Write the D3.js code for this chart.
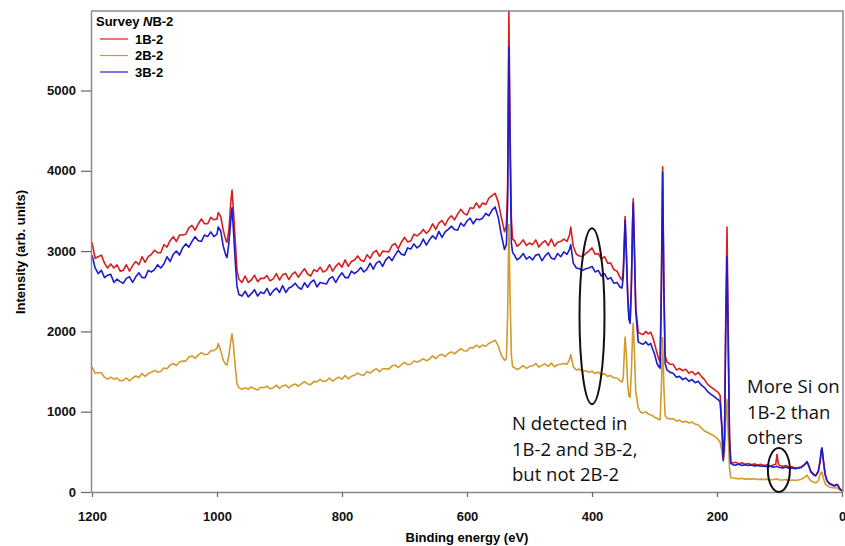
<!DOCTYPE html>
<html>
<head>
<meta charset="utf-8">
<script src="https://cdn.jsdelivr.net/npm/d3@7"></script>
<style>
  body { margin: 0; background: #fff; }
  svg text { font-family: "Liberation Sans", Arial, sans-serif; }
  .note { font-family: "Open Sans", "Noto Sans", sans-serif; font-size: 18.5px; fill: #111; }
</style>
</head>
<body>
<svg id="chart" width="845" height="546"></svg>
<script>
// binding energy (eV), shared by the three spectra
var bindingEnergy = [
  1200,1195,1190,1185,1180,1175,1170,1165,1160,1155,
  1150,1145,1140,1135,1130,1125,1120,1115,1110,1105,
  1100,1095,1090,1085,1080,1075,1070,1065,1060,1055,
  1050,1045,1040,1035,1030,1025,1020,1015,1010,1005,
  1000,998,994,990,986,984,981,978,976,974,
  971,968,965,960,955,950,945,940,935,930,
  925,920,915,910,905,900,895,890,885,880,
  875,870,865,860,855,850,845,840,835,830,
  825,820,815,810,805,800,795,790,785,780,
  775,770,765,760,755,750,745,740,735,730,
  725,720,715,710,705,700,695,690,685,680,
  675,670,665,660,655,650,645,640,635,630,
  625,620,615,610,605,600,595,590,585,580,
  575,570,565,560,555,550,545,540,537,535,
  533,531,529,527,524,520,515,510,505,500,
  495,490,485,480,475,470,465,460,455,450,
  445,440,436,434,430,425,420,415,410,405,
  400,395,390,385,380,375,370,365,360,355,
  352,350,348,347,345,343,341,339,337,335,
  334,332,330,326,322,318,314,310,306,303,
  300,296,293,291,289,287,285,283,280,275,
  270,265,260,255,250,245,240,235,230,225,
  220,215,210,205,200,198,195,192,190,188,
  186,184,182,180,178,175,170,165,160,155,
  150,145,140,135,130,125,120,115,110,106,
  104,102,100,95,90,85,80,75,70,65,
  60,56,53,50,45,42,38,35,33,32,
  30,27,24,20,15,12,9,7,4,2,
  0
];

var counts1B2 = [
  3110,2910,2930,2950,2850,2790,2840,2790,2830,2750,
  2760,2830,2750,2820,2870,2830,2930,2860,2930,2960,
  3010,2980,2980,3080,3050,3130,3180,3120,3200,3200,
  3210,3290,3320,3260,3340,3400,3340,3340,3420,3390,
  3400,3480,3430,3260,3140,3110,3260,3600,3760,3540,
  3150,2760,2650,2610,2690,2610,2640,2700,2620,2660,
  2660,2695,2630,2655,2720,2640,2705,2720,2645,2710,
  2740,2675,2730,2780,2715,2690,2770,2745,2800,2740,
  2760,2830,2750,2810,2850,2800,2890,2810,2870,2890,
  2940,2890,2870,2955,2910,2980,3010,2935,3000,2995,
  2990,3070,3095,3030,3110,3170,3115,3125,3210,3190,
  3220,3270,3220,3260,3340,3270,3350,3380,3320,3400,
  3440,3390,3460,3520,3470,3450,3540,3530,3600,3540,
  3600,3580,3660,3690,3720,3610,3420,3240,3320,3800,
  5980,4500,3400,3150,3130,3060,3090,3140,3070,3100,
  3080,3140,3050,3100,3130,3070,3150,3060,3110,3120,
  3150,3120,3200,3300,3060,2960,2940,2930,2970,3000,
  3040,2960,2970,2900,2930,2850,2850,2770,2750,2670,
  2640,2750,3200,3430,3000,2500,2200,2140,2600,3400,
  3650,3000,2300,1990,1970,1960,2000,1970,1990,1930,
  1850,1730,1650,1620,2600,4050,2600,1700,1620,1590,
  1590,1520,1540,1510,1530,1480,1500,1460,1490,1440,
  1400,1340,1310,1280,1250,1240,1200,800,420,700,
  2200,3300,2000,700,380,360,370,350,365,345,
  355,340,350,335,345,330,340,325,335,345,
  470,360,330,320,330,310,315,300,305,315,
  340,380,330,260,220,210,260,380,520,540,
  400,220,140,110,90,80,95,90,50,30,
  20
];

var counts2B2 = [
  1555,1480,1485,1485,1430,1405,1430,1405,1420,1385,
  1390,1420,1385,1420,1445,1425,1475,1440,1475,1490,
  1515,1495,1500,1545,1535,1580,1600,1575,1620,1630,
  1630,1680,1695,1665,1705,1735,1710,1715,1760,1760,
  1790,1850,1760,1640,1590,1580,1700,1880,1970,1850,
  1580,1350,1300,1280,1300,1280,1310,1285,1270,1305,
  1300,1318,1285,1298,1331,1290,1323,1331,1295,1330,
  1345,1317,1348,1375,1346,1337,1378,1370,1402,1375,
  1385,1420,1380,1410,1430,1405,1450,1410,1440,1455,
  1480,1460,1455,1500,1480,1515,1535,1500,1535,1535,
  1530,1570,1582,1550,1587,1615,1587,1590,1632,1620,
  1635,1660,1635,1655,1695,1660,1700,1715,1685,1725,
  1745,1720,1755,1785,1760,1755,1800,1795,1830,1800,
  1830,1815,1850,1870,1890,1820,1700,1640,1660,2200,
  3330,2400,1700,1560,1550,1525,1545,1575,1540,1565,
  1570,1600,1555,1580,1595,1565,1605,1560,1585,1590,
  1600,1590,1650,1710,1560,1520,1530,1500,1510,1490,
  1505,1475,1495,1455,1475,1440,1450,1420,1420,1385,
  1370,1420,1800,1930,1700,1350,1200,1180,1500,2000,
  2100,1700,1250,1050,990,985,1000,970,960,950,
  930,920,900,900,1300,1920,1300,950,920,910,
  915,885,895,870,880,860,870,845,835,795,
  760,740,720,700,670,650,620,500,380,500,
  900,1150,700,300,180,175,170,165,170,160,
  165,160,165,155,160,155,160,150,155,160,
  165,155,150,150,155,145,150,145,150,160,
  180,210,170,140,120,115,140,220,250,250,
  180,100,80,60,55,50,55,45,30,20,
  10
];

var counts3B2 = [
  2950,2790,2720,2760,2670,2700,2710,2610,2650,2620,
  2600,2660,2680,2610,2680,2730,2670,2670,2760,2740,
  2770,2830,2790,2840,2930,2870,2960,3000,2950,3040,
  3090,3050,3120,3180,3130,3120,3200,3180,3240,3180,
  3210,3300,3250,3060,2950,2920,3100,3380,3540,3300,
  2900,2560,2460,2440,2500,2430,2470,2520,2440,2490,
  2470,2535,2450,2505,2540,2485,2570,2485,2540,2560,
  2600,2550,2525,2605,2550,2610,2640,2555,2610,2600,
  2590,2660,2680,2610,2680,2730,2670,2670,2750,2720,
  2750,2795,2740,2775,2850,2775,2850,2875,2810,2890,
  2930,2880,2950,3010,2960,2950,3040,3025,3090,3040,
  3070,3150,3075,3140,3190,3150,3245,3170,3240,3270,
  3310,3270,3260,3350,3310,3375,3410,3340,3400,3390,
  3410,3470,3440,3510,3550,3420,3200,3020,3080,3600,
  5540,4200,3100,2980,2950,2890,2920,2970,2900,2930,
  2890,2950,2960,2880,2940,2980,2910,2900,2970,2930,
  2990,2960,3020,3080,2850,2790,2780,2760,2780,2790,
  2810,2740,2760,2690,2720,2650,2670,2600,2610,2550,
  2540,2680,3150,3380,2950,2450,2150,2100,2550,3350,
  3600,2950,2250,1870,1850,1840,1870,1830,1850,1780,
  1720,1600,1560,1540,2500,3985,2500,1600,1520,1490,
  1480,1430,1440,1400,1420,1380,1400,1360,1380,1330,
  1300,1250,1220,1190,1160,1150,1120,760,400,650,
  2000,2930,1800,650,360,340,335,345,330,340,
  330,335,325,330,320,325,315,320,310,315,
  320,310,305,300,310,295,300,290,295,305,
  340,375,320,250,210,200,250,390,530,550,
  410,220,140,100,85,75,90,85,45,25,
  15
];

var seriesNames = ["1B-2", "2B-2", "3B-2"];
var seriesColors = ["#d81e1e", "#d39a2c", "#1c1ccc"];
var xTicks = [1200, 1000, 800, 600, 400, 200, 0];
var yTicks = [0, 1000, 2000, 3000, 4000, 5000];

var svg = d3.select("#chart");

var x = d3.scaleLinear().domain([1200, 0]).range([92, 842]);
var y = d3.scaleLinear().domain([0, 5990]).range([492, 11]);

svg.append("clipPath").attr("id", "plotclip")
  .append("rect").attr("x", 91).attr("y", 11).attr("width", 752).attr("height", 481);

// frame (top and right)
svg.append("path")
  .attr("d", "M91,11H843V492")
  .attr("fill", "none")
  .attr("stroke", "#8a8a8a")
  .attr("stroke-width", 1.5);

var series = [counts1B2, counts2B2, counts3B2];

var line = d3.line()
  .defined(function (d) { return d != null; })
  .x(function (d, i) { return x(bindingEnergy[i]); })
  .y(function (d) { return y(d); });

// draw tan first, then red, then blue on top
var order = [1, 0, 2];
svg.append("g").attr("clip-path", "url(#plotclip)")
  .selectAll("path")
  .data(order)
  .enter().append("path")
  .attr("d", function (k) { return line(series[k]); })
  .attr("fill", "none")
  .attr("stroke", function (k) { return seriesColors[k]; })
  .attr("stroke-width", 1.6)
  .attr("stroke-linejoin", "round");

// axes
var yAxis = svg.append("g")
  .attr("transform", "translate(91,0)")
  .call(d3.axisLeft(y).tickValues(yTicks).tickFormat(d3.format("d"))
    .tickSize(10).tickSizeOuter(0).tickPadding(5));

var xAxis = svg.append("g")
  .attr("transform", "translate(0,492)")
  .call(d3.axisBottom(x).tickValues(xTicks).tickFormat(d3.format("d"))
    .tickSize(5).tickSizeOuter(0).tickPadding(15));

[yAxis, xAxis].forEach(function (g) {
  g.select(".domain").attr("stroke", "#8a8a8a").attr("stroke-width", 1.5);
  g.selectAll(".tick line").attr("stroke", "#666").attr("stroke-width", 1.2);
  g.selectAll(".tick text")
    .attr("fill", "#111")
    .style("font-family", "'Liberation Sans', Arial, sans-serif")
    .style("font-size", "13px")
    .style("font-weight", "bold");
});

svg.append("text")
  .attr("x", 467).attr("y", 542)
  .attr("text-anchor", "middle")
  .style("font-size", "13px").style("font-weight", "bold")
  .text("Binding energy (eV)");

svg.append("text")
  .attr("transform", "translate(25,252) rotate(-90)")
  .attr("text-anchor", "middle")
  .style("font-size", "13px").style("font-weight", "bold")
  .text("Intensity (arb. units)");

// legend
var legend = svg.append("g");
var title = legend.append("text")
  .attr("x", 96).attr("y", 26)
  .style("font-size", "13px").style("font-weight", "bold");
title.append("tspan").text("Survey ");
title.append("tspan").style("font-style", "italic").text("N");
title.append("tspan").text("B-2");

var items = legend.selectAll("g.item")
  .data(seriesNames)
  .enter().append("g")
  .attr("class", "item")
  .attr("transform", function (d, i) { return "translate(0," + (39 + i * 16.5) + ")"; });

items.append("line")
  .attr("x1", 100).attr("x2", 128)
  .attr("stroke", function (d, i) { return seriesColors[i]; })
  .attr("stroke-width", 1.2);

items.append("text")
  .attr("x", 135).attr("y", 4.7)
  .style("font-size", "13px").style("font-weight", "bold")
  .text(function (d) { return d; });

// annotations
var notes = svg.append("g");
notes.append("ellipse")
  .attr("cx", x(400)).attr("cy", y(2190))
  .attr("rx", 12.5).attr("ry", 88)
  .attr("fill", "none").attr("stroke", "#111").attr("stroke-width", 2);

notes.append("ellipse")
  .attr("cx", x(101)).attr("cy", y(275))
  .attr("rx", 11).attr("ry", 22)
  .attr("fill", "none").attr("stroke", "#111").attr("stroke-width", 2);

var nText = ["N detected in", "1B-2 and 3B-2,", "but not 2B-2"];
notes.selectAll("text.n")
  .data(nText)
  .enter().append("text")
  .attr("class", "note n")
  .attr("x", x(528))
  .attr("y", function (d, i) { return y(770) + i * 25.5; })
  .text(function (d) { return d; });

var siText = ["More Si on", "1B-2 than", "others"];
notes.selectAll("text.si")
  .data(siText)
  .enter().append("text")
  .attr("class", "note si")
  .attr("x", x(152))
  .attr("y", function (d, i) { return y(1230) + i * 25.5; })
  .text(function (d) { return d; });
</script>
</body>
</html>
